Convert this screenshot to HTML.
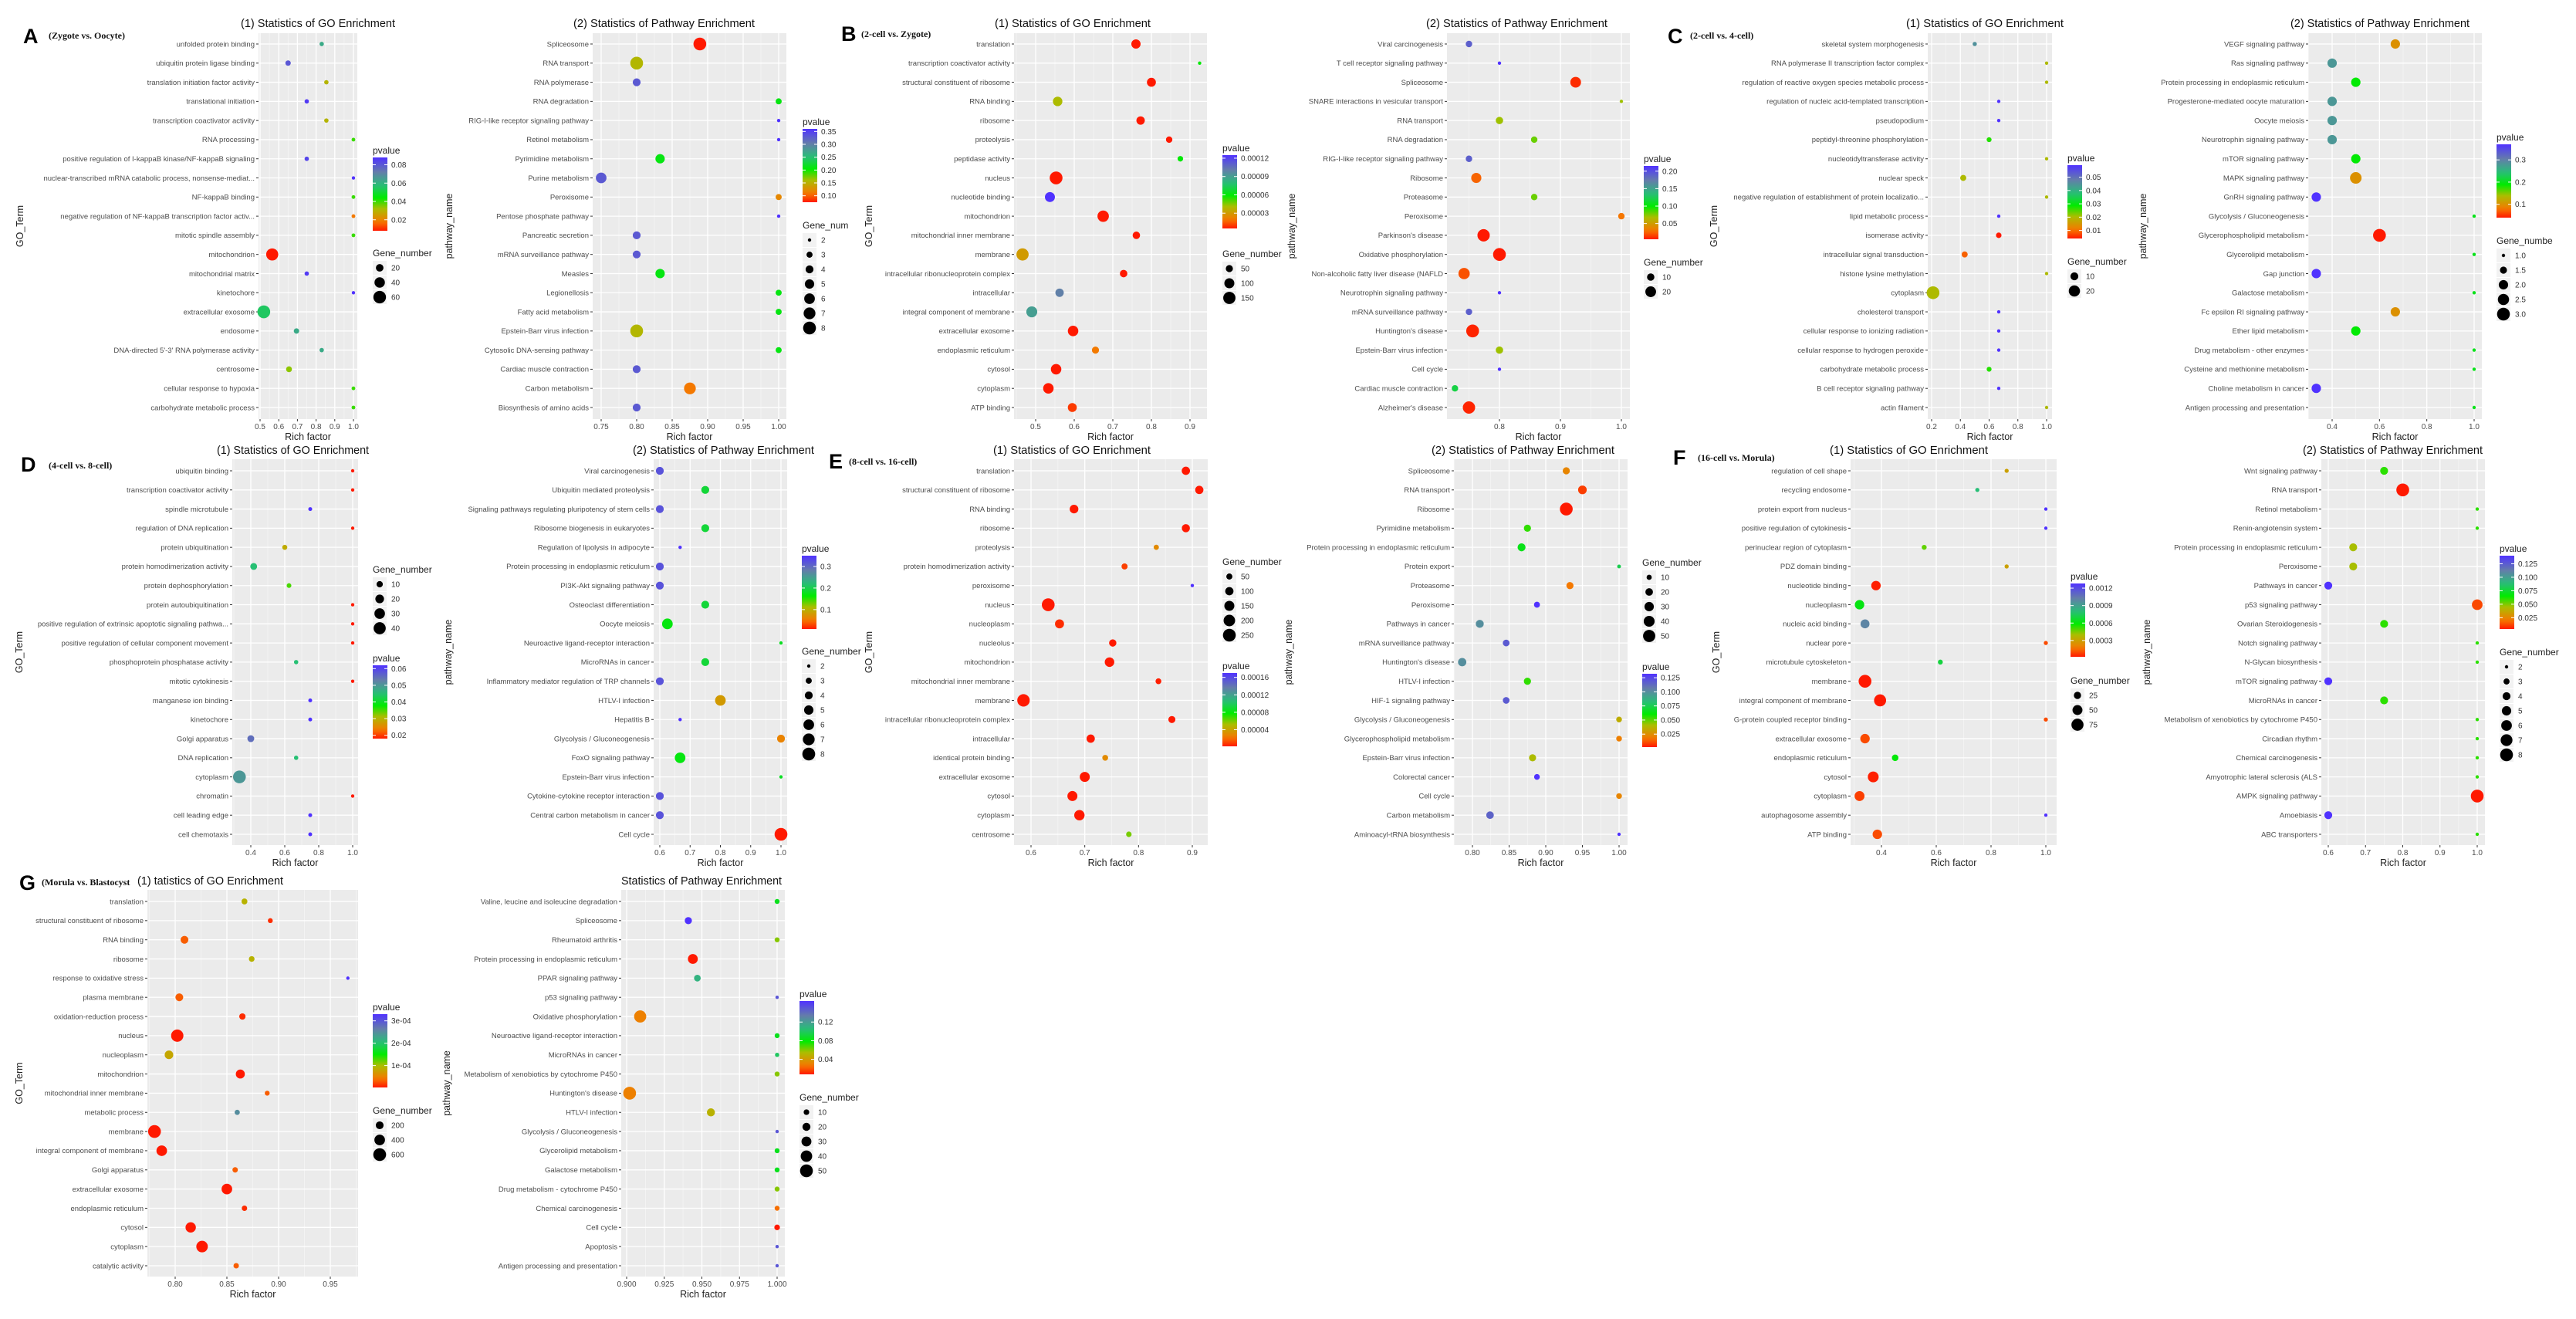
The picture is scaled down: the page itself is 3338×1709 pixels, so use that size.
<!DOCTYPE html>
<html><head><meta charset="utf-8"><title>GO and Pathway Enrichment</title>
<style>
html,body{margin:0;padding:0;background:#fff;}
svg{display:block;font-family:"Liberation Sans",sans-serif;}
</style></head>
<body>
<svg id="fig" xmlns="http://www.w3.org/2000/svg" width="3338" height="1709" viewBox="0 0 3338 1709">
<rect x="0" y="0" width="3338" height="1709" fill="#fff"/>
</svg>
<script>
// ===== Panel A : Zygote vs Oocyte =====
const A_GO_terms=["unfolded protein binding","ubiquitin protein ligase binding","translation initiation factor activity","translational initiation","transcription coactivator activity","RNA processing","positive regulation of I-kappaB kinase/NF-kappaB signaling","nuclear-transcribed mRNA catabolic process, nonsense-mediat...","NF-kappaB binding","negative regulation of NF-kappaB transcription factor activ...","mitotic spindle assembly","mitochondrion","mitochondrial matrix","kinetochore","extracellular exosome","endosome","DNA-directed 5'-3' RNA polymerase activity","centrosome","cellular response to hypoxia","carbohydrate metabolic process"];
const A_GO_rich=[0.83,0.65,0.855,0.75,0.855,1.0,0.75,1.0,1.0,1.0,1.0,0.565,0.75,1.0,0.52,0.695,0.83,0.655,1.0,1.0];
const A_GO_genes=[5,9,5,5,5,3,5,2,3,3,3,55,5,2,62,9,5,11,3,3];
const A_GO_p=[0.062,0.080,0.030,0.086,0.030,0.040,0.084,0.088,0.040,0.018,0.040,0.008,0.086,0.088,0.055,0.062,0.062,0.034,0.040,0.040];
const A_GO_xticks=[0.5,0.6,0.7,0.8,0.9,1.0];
const A_GO_pticks=[0.02,0.04,0.06,0.08];
const A_GO_gticks=[20,40,60];

const A_PW_terms=["Spliceosome","RNA transport","RNA polymerase","RNA degradation","RIG-I-like receptor signaling pathway","Retinol metabolism","Pyrimidine metabolism","Purine metabolism","Peroxisome","Pentose phosphate pathway","Pancreatic secretion","mRNA surveillance pathway","Measles","Legionellosis","Fatty acid metabolism","Epstein-Barr virus infection","Cytosolic DNA-sensing pathway","Cardiac muscle contraction","Carbon metabolism","Biosynthesis of amino acids"];
const A_PW_rich=[0.889,0.80,0.80,1.0,1.0,1.0,0.833,0.75,1.0,1.0,0.80,0.80,0.833,1.0,1.0,0.80,1.0,0.80,0.875,0.80];
const A_PW_genes=[8,8,4,3,2,2,5,6,3,2,4,4,5,3,3,8,3,4,7,4];
const A_PW_p=[0.075,0.155,0.33,0.21,0.36,0.36,0.21,0.33,0.12,0.36,0.33,0.33,0.21,0.21,0.21,0.155,0.21,0.33,0.11,0.33];
const A_PW_xticks=[0.75,0.80,0.85,0.90,0.95,1.00];
const A_PW_pticks=[0.10,0.15,0.20,0.25,0.30,0.35];
const A_PW_gticks=[2,3,4,5,6,7,8];

// ===== Panel B : 2-cell vs Zygote =====
const B_GO_terms=["translation","transcription coactivator activity","structural constituent of ribosome","RNA binding","ribosome","proteolysis","peptidase activity","nucleus","nucleotide binding","mitochondrion","mitochondrial inner membrane","membrane","intracellular ribonucleoprotein complex","intracellular","integral component of membrane","extracellular exosome","endoplasmic reticulum","cytosol","cytoplasm","ATP binding"];
const B_GO_rich=[0.76,0.925,0.80,0.557,0.772,0.846,0.875,0.553,0.537,0.675,0.761,0.466,0.728,0.562,0.49,0.597,0.655,0.553,0.533,0.595];
const B_GO_genes=[85,10,80,90,70,40,30,165,100,130,55,150,55,70,120,110,50,110,110,80];
const B_GO_p=[0.000005,0.00006,0.000005,0.00004,0.000005,0.000005,0.00006,0.000005,0.000125,0.000005,0.000005,0.00003,0.000005,0.0001,0.00009,0.000005,0.00002,0.000005,0.000005,0.00001];
const B_GO_xticks=[0.5,0.6,0.7,0.8,0.9];
const B_GO_pticks=[0.00003,0.00006,0.00009,0.00012];
const B_GO_gticks=[50,100,150];

const B_PW_terms=["Viral carcinogenesis","T cell receptor signaling pathway","Spliceosome","SNARE interactions in vesicular transport","RNA transport","RNA degradation","RIG-I-like receptor signaling pathway","Ribosome","Proteasome","Peroxisome","Parkinson's disease","Oxidative phosphorylation","Non-alcoholic fatty liver disease (NAFLD","Neurotrophin signaling pathway","mRNA surveillance pathway","Huntington's disease","Epstein-Barr virus infection","Cell cycle","Cardiac muscle contraction","Alzheimer's disease"];
const B_PW_rich=[0.75,0.80,0.925,1.0,0.80,0.857,0.75,0.762,0.857,1.0,0.774,0.80,0.742,0.80,0.75,0.756,0.80,0.80,0.727,0.75];
const B_PW_genes=[8,3,20,3,10,8,8,18,8,8,26,28,22,3,8,28,10,3,8,26];
const B_PW_p=[0.19,0.215,0.01,0.07,0.07,0.08,0.19,0.025,0.08,0.03,0.005,0.005,0.02,0.215,0.19,0.008,0.07,0.215,0.12,0.008];
const B_PW_xticks=[0.8,0.9,1.0];
const B_PW_pticks=[0.05,0.10,0.15,0.20];
const B_PW_gticks=[10,20];

// ===== Panel C : 2-cell vs 4-cell =====
const C_GO_terms=["skeletal system morphogenesis","RNA polymerase II transcription factor complex","regulation of reactive oxygen species metabolic process","regulation of nucleic acid-templated transcription","pseudopodium","peptidyl-threonine phosphorylation","nucleotidyltransferase activity","nuclear speck","negative regulation of establishment of protein localizatio...","lipid metabolic process","isomerase activity","intracellular signal transduction","histone lysine methylation","cytoplasm","cholesterol transport","cellular response to ionizing radiation","cellular response to hydrogen peroxide","carbohydrate metabolic process","B cell receptor signaling pathway","actin filament"];
const C_GO_rich=[0.5,1.0,1.0,0.667,0.667,0.6,1.0,0.42,1.0,0.667,0.667,0.43,1.0,0.21,0.667,0.667,0.667,0.6,0.667,1.0];
const C_GO_genes=[3,2,2,2,2,4,2,6,2,2,5,6,2,26,2,2,2,4,2,2];
const C_GO_p=[0.045,0.02,0.02,0.059,0.059,0.027,0.02,0.02,0.02,0.059,0.004,0.009,0.02,0.02,0.059,0.059,0.059,0.027,0.059,0.02];
const C_GO_xticks=[0.2,0.4,0.6,0.8,1.0];
const C_GO_pticks=[0.01,0.02,0.03,0.04,0.05];
const C_GO_gticks=[10,20];

const C_PW_terms=["VEGF signaling pathway","Ras signaling pathway","Protein processing in endoplasmic reticulum","Progesterone-mediated oocyte maturation","Oocyte meiosis","Neurotrophin signaling pathway","mTOR signaling pathway","MAPK signaling pathway","GnRH signaling pathway","Glycolysis / Gluconeogenesis","Glycerophospholipid metabolism","Glycerolipid metabolism","Gap junction","Galactose metabolism","Fc epsilon RI signaling pathway","Ether lipid metabolism","Drug metabolism - other enzymes","Cysteine and methionine metabolism","Choline metabolism in cancer","Antigen processing and presentation"];
const C_PW_rich=[0.667,0.4,0.5,0.4,0.4,0.4,0.5,0.5,0.333,1.0,0.6,1.0,0.333,1.0,0.667,0.5,1.0,1.0,0.333,1.0];
const C_PW_genes=[2,2,2,2,2,2,2,2.6,2,1,3,1,2,1,2,2,1,1,2,1];
const C_PW_p=[0.10,0.28,0.19,0.28,0.28,0.28,0.19,0.10,0.37,0.2,0.04,0.2,0.37,0.2,0.10,0.19,0.2,0.2,0.37,0.2];
const C_PW_xticks=[0.4,0.6,0.8,1.0];
const C_PW_pticks=[0.1,0.2,0.3];
const C_PW_gticks=[1.0,1.5,2.0,2.5,3.0];

// ===== Panel D : 4-cell vs 8-cell =====
const D_GO_terms=["ubiquitin binding","transcription coactivator activity","spindle microtubule","regulation of DNA replication","protein ubiquitination","protein homodimerization activity","protein dephosphorylation","protein autoubiquitination","positive regulation of extrinsic apoptotic signaling pathwa...","positive regulation of cellular component movement","phosphoprotein phosphatase activity","mitotic cytokinesis","manganese ion binding","kinetochore","Golgi apparatus","DNA replication","cytoplasm","chromatin","cell leading edge","cell chemotaxis"];
const D_GO_rich=[1.0,1.0,0.75,1.0,0.6,0.417,0.625,1.0,1.0,1.0,0.667,1.0,0.75,0.75,0.4,0.667,0.333,1.0,0.75,0.75];
const D_GO_genes=[2,2,3,2,6,12,5,2,2,2,4,2,3,3,12,4,45,2,3,3];
const D_GO_p=[0.018,0.018,0.062,0.018,0.029,0.045,0.035,0.018,0.018,0.018,0.045,0.018,0.062,0.062,0.055,0.045,0.05,0.018,0.062,0.062];
const D_GO_xticks=[0.4,0.6,0.8,1.0];
const D_GO_pticks=[0.02,0.03,0.04,0.05,0.06];
const D_GO_gticks=[10,20,30,40];

const D_PW_terms=["Viral carcinogenesis","Ubiquitin mediated proteolysis","Signaling pathways regulating pluripotency of stem cells","Ribosome biogenesis in eukaryotes","Regulation of lipolysis in adipocyte","Protein processing in endoplasmic reticulum","PI3K-Akt signaling pathway","Osteoclast differentiation","Oocyte meiosis","Neuroactive ligand-receptor interaction","MicroRNAs in cancer","Inflammatory mediator regulation of TRP channels","HTLV-I infection","Hepatitis B","Glycolysis / Gluconeogenesis","FoxO signaling pathway","Epstein-Barr virus infection","Cytokine-cytokine receptor interaction","Central carbon metabolism in cancer","Cell cycle"];
const D_PW_rich=[0.6,0.75,0.6,0.75,0.667,0.6,0.6,0.75,0.625,1.0,0.75,0.6,0.8,0.667,1.0,0.667,1.0,0.6,0.6,1.0];
const D_PW_genes=[4,4,4,4,2,4,4,4,6,2,4,4,6,2,4,6,2,4,4,8];
const D_PW_p=[0.32,0.19,0.32,0.19,0.35,0.32,0.32,0.19,0.17,0.18,0.19,0.32,0.08,0.35,0.06,0.17,0.18,0.32,0.32,0.01];
const D_PW_xticks=[0.6,0.7,0.8,0.9,1.0];
const D_PW_pticks=[0.1,0.2,0.3];
const D_PW_gticks=[2,3,4,5,6,7,8];

// ===== Panel E : 8-cell vs 16-cell =====
const E_GO_terms=["translation","structural constituent of ribosome","RNA binding","ribosome","proteolysis","protein homodimerization activity","peroxisome","nucleus","nucleoplasm","nucleolus","mitochondrion","mitochondrial inner membrane","membrane","intracellular ribonucleoprotein complex","intracellular","identical protein binding","extracellular exosome","cytosol","cytoplasm","centrosome"];
const E_GO_rich=[0.888,0.913,0.68,0.888,0.833,0.774,0.90,0.632,0.653,0.752,0.746,0.837,0.586,0.862,0.711,0.738,0.70,0.677,0.69,0.782];
const E_GO_genes=[100,100,110,95,35,50,10,250,120,75,135,45,235,70,100,45,150,150,160,40];
const E_GO_p=[0.000002,0.000002,0.000002,0.000002,0.00003,0.00001,0.00017,0.000002,0.000006,0.000002,0.000002,0.000003,0.000002,0.000002,0.000002,0.00003,0.000002,0.000002,0.000002,0.00006];
const E_GO_xticks=[0.6,0.7,0.8,0.9];
const E_GO_pticks=[0.00004,0.00008,0.00012,0.00016];
const E_GO_gticks=[50,100,150,200,250];

const E_PW_terms=["Spliceosome","RNA transport","Ribosome","Pyrimidine metabolism","Protein processing in endoplasmic reticulum","Protein export","Proteasome","Peroxisome","Pathways in cancer","mRNA surveillance pathway","Huntington's disease","HTLV-I infection","HIF-1 signaling pathway","Glycolysis / Gluconeogenesis","Glycerophospholipid metabolism","Epstein-Barr virus infection","Colorectal cancer","Cell cycle","Carbon metabolism","Aminoacyl-tRNA biosynthesis"];
const E_PW_rich=[0.928,0.95,0.928,0.875,0.867,1.0,0.933,0.888,0.81,0.846,0.786,0.875,0.846,1.0,1.0,0.882,0.888,1.0,0.824,1.0];
const E_PW_genes=[18,26,55,18,22,6,18,13,22,16,24,18,16,12,12,18,12,12,20,5];
const E_PW_p=[0.022,0.008,0.002,0.055,0.065,0.075,0.018,0.132,0.10,0.118,0.10,0.055,0.118,0.035,0.02,0.04,0.132,0.022,0.115,0.132];
const E_PW_xticks=[0.80,0.85,0.90,0.95,1.00];
const E_PW_pticks=[0.025,0.050,0.075,0.100,0.125];
const E_PW_gticks=[10,20,30,40,50];

// ===== Panel F : 16-cell vs Morula =====
const F_GO_terms=["regulation of cell shape","recycling endosome","protein export from nucleus","positive regulation of cytokinesis","perinuclear region of cytoplasm","PDZ domain binding","nucleotide binding","nucleoplasm","nucleic acid binding","nuclear pore","microtubule cytoskeleton","membrane","integral component of membrane","G-protein coupled receptor binding","extracellular exosome","endoplasmic reticulum","cytosol","cytoplasm","autophagosome assembly","ATP binding"];
const F_GO_rich=[0.857,0.75,1.0,1.0,0.556,0.857,0.38,0.32,0.34,1.0,0.615,0.34,0.395,1.0,0.34,0.45,0.37,0.32,1.0,0.385];
const F_GO_genes=[6,6,3,3,10,6,45,45,40,6,10,85,75,6,45,20,60,50,3,45];
const F_GO_p=[0.0003,0.0008,0.00128,0.00128,0.00048,0.0003,0.00003,0.00062,0.001,0.0001,0.0007,0.00002,0.00002,0.0001,0.0001,0.0006,0.00003,0.00008,0.00128,0.0001];
const F_GO_xticks=[0.4,0.6,0.8,1.0];
const F_GO_pticks=[0.0003,0.0006,0.0009,0.0012];
const F_GO_gticks=[25,50,75];

const F_PW_terms=["Wnt signaling pathway","RNA transport","Retinol metabolism","Renin-angiotensin system","Protein processing in endoplasmic reticulum","Peroxisome","Pathways in cancer","p53 signaling pathway","Ovarian Steroidogenesis","Notch signaling pathway","N-Glycan biosynthesis","mTOR signaling pathway","MicroRNAs in cancer","Metabolism of xenobiotics by cytochrome P450","Circadian rhythm","Chemical carcinogenesis","Amyotrophic lateral sclerosis (ALS","AMPK signaling pathway","Amoebiasis","ABC transporters"];
const F_PW_rich=[0.75,0.8,1.0,1.0,0.667,0.667,0.6,1.0,0.75,1.0,1.0,0.6,0.75,1.0,1.0,1.0,1.0,1.0,0.6,1.0];
const F_PW_genes=[4,8,2,2,4,4,4,6,4,2,2,4,4,2,2,2,2,8,4,2];
const F_PW_p=[0.06,0.004,0.06,0.06,0.045,0.045,0.14,0.012,0.06,0.06,0.06,0.14,0.06,0.06,0.06,0.06,0.06,0.004,0.14,0.06];
const F_PW_xticks=[0.6,0.7,0.8,0.9,1.0];
const F_PW_pticks=[0.025,0.050,0.075,0.100,0.125];
const F_PW_gticks=[2,3,4,5,6,7,8];

// ===== Panel G : Morula vs Blastocyst =====
const G_GO_terms=["translation","structural constituent of ribosome","RNA binding","ribosome","response to oxidative stress","plasma membrane","oxidation-reduction process","nucleus","nucleoplasm","mitochondrion","mitochondrial inner membrane","metabolic process","membrane","integral component of membrane","Golgi apparatus","extracellular exosome","endoplasmic reticulum","cytosol","cytoplasm","catalytic activity"];
const G_GO_rich=[0.867,0.892,0.809,0.874,0.967,0.804,0.865,0.802,0.794,0.863,0.889,0.86,0.78,0.787,0.858,0.85,0.867,0.815,0.826,0.859];
const G_GO_genes=[100,60,200,90,10,200,120,550,250,280,60,70,600,400,80,400,80,380,480,80];
const G_GO_p=[0.00009,0.00001,0.00003,0.00009,0.00033,0.00003,0.00001,0.000002,0.00008,0.000002,0.00003,0.00025,0.000002,0.000002,0.00003,0.000002,0.00001,0.000002,0.000002,0.00003];
const G_GO_xticks=[0.80,0.85,0.90,0.95];
const G_GO_pticks=[0.0001,0.0002,0.0003];
const G_GO_plabels=["1e-04","2e-04","3e-04"];
const G_GO_gticks=[200,400,600];

const G_PW_terms=["Valine, leucine and isoleucine degradation","Spliceosome","Rheumatoid arthritis","Protein processing in endoplasmic reticulum","PPAR signaling pathway","p53 signaling pathway","Oxidative phosphorylation","Neuroactive ligand-receptor interaction","MicroRNAs in cancer","Metabolism of xenobiotics by cytochrome P450","Huntington's disease","HTLV-I infection","Glycolysis / Gluconeogenesis","Glycerolipid metabolism","Galactose metabolism","Drug metabolism - cytochrome P450","Chemical carcinogenesis","Cell cycle","Apoptosis","Antigen processing and presentation"];
const G_PW_rich=[1.0,0.941,1.0,0.944,0.947,1.0,0.909,1.0,1.0,1.0,0.902,0.956,1.0,1.0,1.0,1.0,1.0,1.0,1.0,1.0];
const G_PW_genes=[8,16,8,30,14,4,45,8,6,8,50,20,4,8,8,8,8,10,4,4];
const G_PW_p=[0.085,0.165,0.06,0.008,0.11,0.15,0.03,0.085,0.10,0.06,0.03,0.05,0.15,0.085,0.085,0.06,0.025,0.008,0.15,0.15];
const G_PW_xticks=[0.900,0.925,0.950,0.975,1.000];
const G_PW_pticks=[0.04,0.08,0.12];
const G_PW_gticks=[10,20,30,40,50];

// ---------- layout (pixel geometry, not data) ----------
const ROWS={1:{top:43,bot:543,first:57,last:528,title:35},2:{top:595,bot:1095,first:610,last:1081,title:588},3:{top:1153,bot:1654,first:1168,last:1640,title:1146}};
const NS="http://www.w3.org/2000/svg";
const svg=document.getElementById('fig');
function el(tag,attrs,parent,text){const e=document.createElementNS(NS,tag);for(const k in attrs)e.setAttribute(k,attrs[k]);if(text!==undefined)e.textContent=text;(parent||svg).appendChild(e);return e;}

const STOPS=[[0,[255,25,0]],[0.12,[245,120,0]],[0.3,[170,190,0]],[0.45,[0,235,0]],[0.62,[40,190,120]],[0.8,[100,125,170]],[1,[80,50,255]]];
function grad(t){t=Math.max(0,Math.min(1,t));for(let i=1;i<STOPS.length;i++){if(t<=STOPS[i][0]){const a=STOPS[i-1],b=STOPS[i];const f=(t-a[0])/(b[0]-a[0]);const c=a[1].map((v,j)=>Math.round(v+(b[1][j]-v)*f));return `rgb(${c[0]},${c[1]},${c[2]})`;}}return 'rgb(80,50,255)';}
const RMIN=2.2,RMAX=8.3;
function fmt(v,ticks){const s=ticks.map(t=>{const str=String(t);const d=str.includes('.')?str.split('.')[1].length:0;return d;});const d=Math.max(...s);return v.toFixed(d);}

function drawPlot(cfg,terms,rich,genes,pv,xticks,pticks,gticks,plabels){
  const R=ROWS[cfg.row];
  const g=el('g',{});
  
  
  const x0=cfg.x0,x1=cfg.x1,y0=R.top,y1=R.bot;
  const sx=v=>cfg.ta[1]+(v-cfg.ta[0])*(cfg.tb[1]-cfg.ta[1])/(cfg.tb[0]-cfg.ta[0]);
  const n=terms.length;
  const sy=i=>R.first+i*(R.last-R.first)/(n-1);
  const bg=el('rect',{x:x0,y:y0,width:x1-x0,height:y1-y0,fill:'#ebebeb'},g);
  
  
  const step=xticks[1]-xticks[0];
  for(let k=-2;k<xticks.length+2;k++){const v=xticks[0]+(k+0.5)*step;const px=sx(v);if(px>x0&&px<x1)el('line',{x1:px,x2:px,y1:y0,y2:y1,stroke:'#f7f7f7','stroke-width':0.7},g);}
  xticks.forEach(v=>{const px=sx(v);el('line',{x1:px,x2:px,y1:y0,y2:y1,stroke:'#fff','stroke-width':1.3},g);
    el('line',{x1:px,x2:px,y1:y1,y2:y1+3,stroke:'#333','stroke-width':1},g);
    const t=el('text',{x:px,y:y1+13,'font-size':10,'text-anchor':'middle',fill:'#4d4d4d'},g,fmt(v,xticks));
    
    });
  terms.forEach((term,i)=>{const py=sy(i);el('line',{x1:x0,x2:x1,y1:py,y2:py,stroke:'#fff','stroke-width':1.3},g);
    el('line',{x1:x0-3,x2:x0,y1:py,y2:py,stroke:'#333','stroke-width':1},g);
    const t=el('text',{x:x0-5,y:py+3.3,'font-size':9.5,'text-anchor':'end',fill:'#4d4d4d'},g,term);
    
    });
  const gmin=Math.min(...genes),gmax=Math.max(...genes);
  const rad=v=>gmax===gmin?RMAX*0.6:Math.sqrt(RMIN*RMIN+(RMAX*RMAX-RMIN*RMIN)*(v-gmin)/(gmax-gmin));
  const pmin=Math.min(...pv),pmax=Math.max(...pv);
  const col=p=>grad((p-pmin)/(pmax-pmin));
  terms.forEach((term,i)=>{const c=el('circle',{cx:sx(rich[i]),cy:sy(i),r:rad(genes[i]),fill:col(pv[i])},g);
    
    });
  const xt=el('text',{x:(x0+x1)/2,y:y1+27,'font-size':12.5,'text-anchor':'middle',fill:'#222'},g,'Rich factor');
  
  
  const yc=(y0+y1)/2;
  const yt=el('text',{x:cfg.ylab,y:yc,'font-size':12.5,'text-anchor':'middle',fill:'#222',transform:`rotate(-90 ${cfg.ylab} ${yc})`},g,cfg.ytitle);
  
  
  const tt=el('text',{x:cfg.tx,y:R.title,'font-size':15,fill:'#111',textLength:cfg.tw,lengthAdjust:'spacingAndGlyphs'},g,cfg.title);
  
  
  const lx=cfg.lx;
  const pg=el('g',{},g);
  
  
  el('text',{x:lx,y:cfg.pvY+4,'font-size':12,fill:'#222'},pg,'pvalue');
  const bt=cfg.pvY+9,bh=95;
  const gid='gr_'+cfg.name;
  const lg=el('linearGradient',{id:gid,x1:0,y1:1,x2:0,y2:0},pg);
  for(let k=0;k<=20;k++)el('stop',{offset:(k/20),'stop-color':grad(k/20)},lg);
  el('rect',{x:lx,y:bt,width:19,height:bh,fill:`url(#${gid})`},pg);
  pticks.forEach((v,k)=>{if(v<pmin||v>pmax)return;const py=bt+bh-(v-pmin)/(pmax-pmin)*bh;
    el('line',{x1:lx,x2:lx+4,y1:py,y2:py,stroke:'#fff','stroke-width':1},pg);
    el('line',{x1:lx+15,x2:lx+19,y1:py,y2:py,stroke:'#fff','stroke-width':1},pg);
    el('text',{x:lx+24,y:py+3.5,'font-size':10,fill:'#333'},pg,plabels?plabels[k]:fmt(v,pticks));});
  const gg=el('g',{},g);
  
  
  el('text',{x:lx,y:cfg.gnY+4,'font-size':12,fill:'#222'},gg,cfg.gtitle||'Gene_number');
  gticks.forEach((v,k)=>{const cy=cfg.gnY+19+k*19;
    el('rect',{x:lx,y:cy-9,width:18,height:18,fill:'#f2f2f2'},gg);
    el('circle',{cx:lx+9,cy:cy,r:rad(Math.max(gmin,Math.min(gmax,v))),fill:'#000'},gg);
    el('text',{x:lx+24,y:cy+3.5,'font-size':10,fill:'#333'},gg,fmt(v,gticks));});
}
const GOT='(1)  Statistics of GO Enrichment', PWT='(2)  Statistics of Pathway Enrichment';
drawPlot({name:'A-go-plot',row:1,x0:335,x1:463,ta:[0.5,337],tb:[1.0,458],ylab:30,ytitle:'GO_Term',title:GOT,tx:312,tw:200,lx:483,pvY:195,gnY:328},A_GO_terms,A_GO_rich,A_GO_genes,A_GO_p,A_GO_xticks,A_GO_pticks,A_GO_gticks);
drawPlot({name:'A-pathway-plot',row:1,x0:768,x1:1019,ta:[0.75,779],tb:[1.0,1009],ylab:586,ytitle:'pathway_name',title:PWT,tx:743,tw:235,lx:1040,pvY:158,gnY:292,gtitle:'Gene_num'},A_PW_terms,A_PW_rich,A_PW_genes,A_PW_p,A_PW_xticks,A_PW_pticks,A_PW_gticks);
drawPlot({name:'B-go-plot',row:1,x0:1314,x1:1564,ta:[0.5,1342],tb:[0.9,1542],ylab:1130,ytitle:'GO_Term',title:GOT,tx:1289,tw:202,lx:1584,pvY:192,gnY:329},B_GO_terms,B_GO_rich,B_GO_genes,B_GO_p,B_GO_xticks,B_GO_pticks,B_GO_gticks);
drawPlot({name:'B-pathway-plot',row:1,x0:1875,x1:2112,ta:[0.8,1943],tb:[1.0,2101],ylab:1678,ytitle:'pathway_name',title:PWT,tx:1848,tw:235,lx:2130,pvY:206,gnY:340},B_PW_terms,B_PW_rich,B_PW_genes,B_PW_p,B_PW_xticks,B_PW_pticks,B_PW_gticks);
drawPlot({name:'C-go-plot',row:1,x0:2498,x1:2659,ta:[0.2,2503],tb:[1.0,2652],ylab:2225,ytitle:'GO_Term',title:GOT,tx:2470,tw:204,lx:2679,pvY:205,gnY:339},C_GO_terms,C_GO_rich,C_GO_genes,C_GO_p,C_GO_xticks,C_GO_pticks,C_GO_gticks);
drawPlot({name:'C-pathway-plot',row:1,x0:2991,x1:3216,ta:[0.4,3022],tb:[1.0,3206],ylab:2781,ytitle:'pathway_name',title:PWT,tx:2968,tw:232,lx:3235,pvY:178,gnY:312,gtitle:'Gene_numbe'},C_PW_terms,C_PW_rich,C_PW_genes,C_PW_p,C_PW_xticks,C_PW_pticks,C_PW_gticks);
drawPlot({name:'D-go-plot',row:2,x0:301,x1:464,ta:[0.4,325],tb:[1.0,457],ylab:29,ytitle:'GO_Term',title:GOT,tx:281,tw:197,lx:483,pvY:853,gnY:738},D_GO_terms,D_GO_rich,D_GO_genes,D_GO_p,D_GO_xticks,D_GO_pticks,D_GO_gticks);
drawPlot({name:'D-pathway-plot',row:2,x0:847,x1:1020,ta:[0.6,855],tb:[1.0,1012],ylab:585,ytitle:'pathway_name',title:PWT,tx:820,tw:235,lx:1039,pvY:711,gnY:844},D_PW_terms,D_PW_rich,D_PW_genes,D_PW_p,D_PW_xticks,D_PW_pticks,D_PW_gticks);
drawPlot({name:'E-go-plot',row:2,x0:1314,x1:1565,ta:[0.6,1336],tb:[0.9,1545],ylab:1130,ytitle:'GO_Term',title:GOT,tx:1287,tw:204,lx:1584,pvY:863,gnY:728},E_GO_terms,E_GO_rich,E_GO_genes,E_GO_p,E_GO_xticks,E_GO_pticks,E_GO_gticks);
drawPlot({name:'E-pathway-plot',row:2,x0:1884,x1:2109,ta:[0.8,1908],tb:[1.0,2098],ylab:1674,ytitle:'pathway_name',title:PWT,tx:1855,tw:237,lx:2128,pvY:864,gnY:729},E_PW_terms,E_PW_rich,E_PW_genes,E_PW_p,E_PW_xticks,E_PW_pticks,E_PW_gticks);
drawPlot({name:'F-go-plot',row:2,x0:2398,x1:2665,ta:[0.4,2438],tb:[1.0,2651],ylab:2228,ytitle:'GO_Term',title:GOT,tx:2371,tw:205,lx:2683,pvY:747,gnY:882},F_GO_terms,F_GO_rich,F_GO_genes,F_GO_p,F_GO_xticks,F_GO_pticks,F_GO_gticks);
drawPlot({name:'F-pathway-plot',row:2,x0:3008,x1:3220,ta:[0.6,3017],tb:[1.0,3210],ylab:2786,ytitle:'pathway_name',title:PWT,tx:2984,tw:233,lx:3239,pvY:711,gnY:845},F_PW_terms,F_PW_rich,F_PW_genes,F_PW_p,F_PW_xticks,F_PW_pticks,F_PW_gticks);
drawPlot({name:'G-go-plot',row:3,x0:191,x1:464,ta:[0.8,227],tb:[0.95,428],ylab:29,ytitle:'GO_Term',title:'(1) tatistics of GO Enrichment',tx:178,tw:189,lx:483,pvY:1305,gnY:1439},G_GO_terms,G_GO_rich,G_GO_genes,G_GO_p,G_GO_xticks,G_GO_pticks,G_GO_gticks,G_GO_plabels);
drawPlot({name:'G-pathway-plot',row:3,x0:805,x1:1017,ta:[0.9,812],tb:[1.0,1007],ylab:583,ytitle:'pathway_name',title:'Statistics of Pathway Enrichment',tx:805,tw:208,lx:1036,pvY:1288,gnY:1422},G_PW_terms,G_PW_rich,G_PW_genes,G_PW_p,G_PW_xticks,G_PW_pticks,G_PW_gticks);

const LABELS=[['A','(Zygote vs. Oocyte)',30,56,63,50],['B','(2-cell vs. Zygote)',1090,53,1116,48],['C','(2-cell vs. 4-cell)',2161,56,2190,50],['D','(4-cell vs. 8-cell)',27,611,63,607],['E','(8-cell vs. 16-cell)',1074,607,1100,602],['F','(16-cell vs. Morula)',2168,602,2200,597],['G','(Morula vs. Blastocyst',25,1153,54,1147]];
LABELS.forEach(L=>{
  const a=el('text',{x:L[2],y:L[3],'font-size':27,'font-weight':'bold',fill:'#000'},svg,L[0]);
  
  
  const b=el('text',{x:L[4],y:L[5],'font-size':12,'font-weight':'bold','font-family':'"Liberation Serif",serif',fill:'#111'},svg,L[1]);
  
  
});
</script>
</body></html>
